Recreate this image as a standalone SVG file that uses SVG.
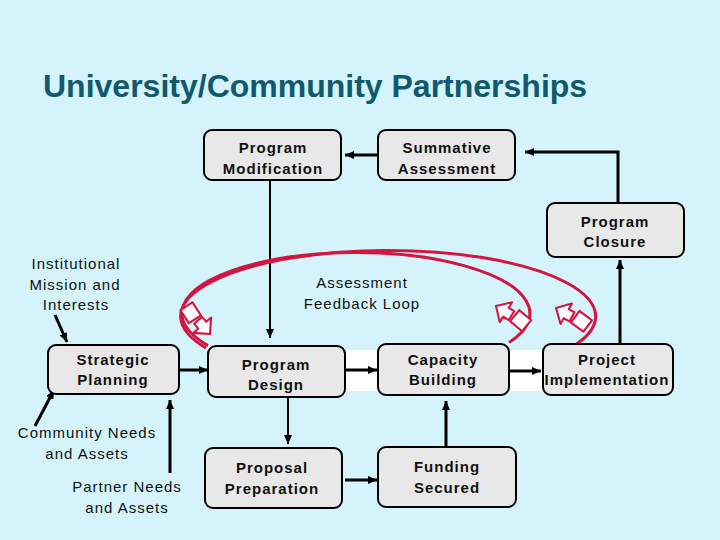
<svg xmlns="http://www.w3.org/2000/svg" width="720" height="540" viewBox="0 0 720 540">
<style>
.box{fill:#e8e8e8;stroke:#000;stroke-width:2}
.t{font-family:"Liberation Sans",Arial,sans-serif;font-size:15px;letter-spacing:1px;text-anchor:middle;fill:#111}
.b{font-weight:bold}
.c{fill:none;stroke:#000;stroke-width:3}
.c2{fill:none;stroke:#000;stroke-width:2}
.loop{fill:none;stroke:#d3163f;stroke-width:3}
.ico{fill:#fff;stroke:#d3163f;stroke-width:1.6;stroke-linejoin:round}
</style>
<defs>
<marker id="ah" markerUnits="userSpaceOnUse" markerWidth="9" markerHeight="8" refX="9" refY="4" orient="auto">
<path d="M0,0 L9,4 L0,8 Z" fill="#000"/>
</marker>
<g id="icon">
<path class="ico" d="M0,0 L9,-9 L9,-4 L14,-4 L14,4 L9,4 L9,9 Z"/>
<rect class="ico" x="16" y="-6" width="12" height="11" transform="rotate(8 22 0)"/>
</g>
</defs>
<rect x="0" y="0" width="720" height="540" fill="#d4f3fa"/>
<rect x="343" y="350" width="202" height="41" fill="#fff"/>
<text x="43" y="97" style="font-family:'Liberation Sans',Arial,sans-serif;font-size:32px;font-weight:bold;fill:#10596e">University/Community Partnerships</text>

<g id="connectors">
<path class="c" d="M377,155 L345,155" marker-end="url(#ah)"/>
<path class="c" d="M618,203 L618,152 L525,152" marker-end="url(#ah)"/>
<path class="c" d="M620,343 L620,260" marker-end="url(#ah)"/>
<path class="c2" d="M270,180 L270,338" marker-end="url(#ah)"/>
<path class="c" d="M180,370 L208,370" marker-end="url(#ah)"/>
<path class="c" d="M345,370 L377,370" marker-end="url(#ah)"/>
<path class="c" d="M510,371 L541,371" marker-end="url(#ah)"/>
<path class="c2" d="M288,397 L288,444" marker-end="url(#ah)"/>
<path class="c" d="M345,480 L377,480" marker-end="url(#ah)"/>
<path class="c" d="M446,447 L446,401" marker-end="url(#ah)"/>
<path class="c" d="M55,315 L67,342" marker-end="url(#ah)"/>
<path class="c" d="M35,426 L54,390" marker-end="url(#ah)"/>
<path class="c" d="M170,473 L170,400" marker-end="url(#ah)"/>
</g>

<g id="feedback-loop">
<path class="loop" d="M208,345.6 A174,61 0 1 1 509,342.5"/>
<path class="loop" d="M206,348 A207.5,66 0 1 1 572,347"/>
<use href="#icon" transform="translate(210,334) rotate(-131) scale(1.3)"/>
<use href="#icon" transform="translate(496,306) rotate(32) scale(1.3)"/>
<use href="#icon" transform="translate(556,308) rotate(29) scale(1.3)"/>
<text class="t" x="362" y="288">Assessment</text>
<text class="t" x="362" y="309">Feedback Loop</text>
</g>

<g id="program-modification">
<rect class="box" x="204" y="130" width="137" height="50" rx="8"/>
<text class="t b" x="273" y="153">Program</text>
<text class="t b" x="273" y="174">Modification</text>
</g>
<g id="summative-assessment">
<rect class="box" x="378" y="130" width="137" height="50" rx="8"/>
<text class="t b" x="447" y="153">Summative</text>
<text class="t b" x="447" y="174">Assessment</text>
</g>
<g id="program-closure">
<rect class="box" x="547" y="203" width="137" height="54" rx="8"/>
<text class="t b" x="615" y="227">Program</text>
<text class="t b" x="615" y="247">Closure</text>
</g>
<g id="strategic-planning">
<rect class="box" x="48" y="345" width="131" height="49" rx="8"/>
<text class="t b" x="113" y="365">Strategic</text>
<text class="t b" x="113" y="385">Planning</text>
</g>
<g id="program-design">
<rect class="box" x="208" y="346" width="137" height="51" rx="8"/>
<text class="t b" x="276" y="370">Program</text>
<text class="t b" x="276" y="390">Design</text>
</g>
<g id="capacity-building">
<rect class="box" x="378" y="344" width="131" height="51" rx="8"/>
<text class="t b" x="443" y="365">Capacity</text>
<text class="t b" x="443" y="385">Building</text>
</g>
<g id="project-implementation">
<rect class="box" x="543" y="344" width="130" height="51" rx="8"/>
<text class="t b" x="607" y="365">Project</text>
<text class="t b" x="607" y="385">Implementation</text>
</g>
<g id="proposal-preparation">
<rect class="box" x="205" y="448" width="137" height="60" rx="8"/>
<text class="t b" x="272" y="473">Proposal</text>
<text class="t b" x="272" y="494">Preparation</text>
</g>
<g id="funding-secured">
<rect class="box" x="378" y="447" width="138" height="60" rx="8"/>
<text class="t b" x="447" y="472">Funding</text>
<text class="t b" x="447" y="493">Secured</text>
</g>
<g id="institutional-mission">
<text class="t" x="76" y="269">Institutional</text>
<text class="t" x="75" y="290">Mission and</text>
<text class="t" x="76" y="310">Interests</text>
</g>
<g id="community-needs">
<text class="t" x="87" y="438">Community Needs</text>
<text class="t" x="87" y="459">and Assets</text>
</g>
<g id="partner-needs">
<text class="t" x="127" y="492">Partner Needs</text>
<text class="t" x="127" y="513">and Assets</text>
</g>
</svg>
